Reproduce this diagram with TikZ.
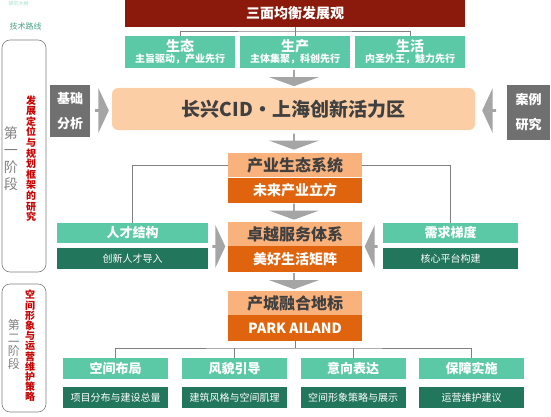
\documentclass[tikz,border=0pt]{standalone}
\usepackage{fontspec}
\setmainfont{Noto Sans CJK SC}
\usetikzlibrary{shapes.arrows, positioning}

\definecolor{bannerred}{RGB}{139,26,12}
\definecolor{tealbg}{RGB}{92,201,166}
\definecolor{greenbg}{RGB}{34,118,92}
\definecolor{peach}{RGB}{252,206,165}
\definecolor{lightorange}{RGB}{250,178,125}
\definecolor{darkorange}{RGB}{224,100,14}
\definecolor{boxgray}{RGB}{112,112,112}
\definecolor{arrowgray}{RGB}{165,165,165}
\definecolor{linegray}{RGB}{128,128,128}
\definecolor{stagered}{RGB}{200,0,0}
\definecolor{textdark}{RGB}{64,64,64}

\begin{document}
\begin{tikzpicture}[x=1pt, y=-1pt,
  link/.style={draw=linegray, line width=0.7pt},
  banner/.style={fill=bannerred, text=white, inner sep=0pt, font=\bfseries\fontsize{14}{16}\selectfont},
  topbox/.style={fill=tealbg, text=white, inner sep=0pt, align=center, minimum width=110, minimum height=32},
  tealbox/.style={fill=tealbg, text=white, inner sep=0pt, font=\bfseries\fontsize{13}{15}\selectfont},
  greenbox/.style={fill=greenbg, text=white, inner sep=0pt, font=\fontsize{10}{12}\selectfont},
  lightbox/.style={fill=lightorange, text=textdark, inner sep=0pt, minimum width=134, font=\bfseries\fontsize{16}{18}\selectfont},
  darkbox/.style={fill=darkorange, text=white, inner sep=0pt, minimum width=134, font=\bfseries\fontsize{14}{16}\selectfont},
  graybox/.style={fill=boxgray, text=white, inner sep=0pt, align=center, font=\bfseries\fontsize{13}{25}\selectfont},
  downarr/.style={single arrow, shape border rotate=270, fill=arrowgray, inner sep=0pt,
    minimum width=50, minimum height=16, single arrow head extend=5, single arrow tip angle=140},
  sidearr/.style={single arrow, fill=arrowgray, inner sep=0pt,
    minimum width=45, minimum height=14, single arrow head extend=3, single arrow tip angle=130},
  stage/.style={draw=linegray, line width=0.6pt, rounded corners=8pt},
  stagetext/.style={text=linegray, align=center, inner sep=0pt},
  redtext/.style={text=stagered, align=center, inner sep=0pt}
]
  \useasboundingbox (0,0) rectangle (551,417);

  % ======= 左上角标题 =======
  \node[text=tealbg!60, font=\fontsize{5}{6}\selectfont, anchor=west] (outline) at (5,4) {研究大纲};
  \node[text=tealbg!80!black, font=\fontsize{8}{9}\selectfont, anchor=west] (route) at (6,26) {技术路线};

  % ======= 阶段框 =======
  \draw[stage] (2,40) rectangle (46,272);
  \draw[stage] (2,284) rectangle (46,412);
  \node[stagetext, font=\fontsize{14}{17}\selectfont] (st1) at (11,159) {第\\一\\阶\\段};
  \node[redtext, font=\bfseries\fontsize{10}{10.6}\selectfont] (rt1) at (31,158.5)
    {发\\展\\定\\位\\与\\规\\划\\框\\架\\的\\研\\究};
  \node[stagetext, font=\fontsize{12}{13}\selectfont] (st2) at (14,344) {第\\二\\阶\\段};
  \node[redtext, font=\bfseries\fontsize{10}{10.2}\selectfont] (rt2) at (30,346)
    {空\\间\\形\\象\\与\\运\\营\\维\\护\\策\\略};

  % ======= 三面均衡发展观 =======
  \node[banner, minimum width=340, minimum height=27] (view) at (295,13.5) {三面均衡发展观};
  \node[topbox] (eco) at (180,52)
    {{\bfseries\fontsize{14}{16}\selectfont 生态}\\[-1pt]{\bfseries\fontsize{10}{12}\selectfont 主旨驱动，产业先行}};
  \node[topbox] (prod) at (295,52)
    {{\bfseries\fontsize{14}{16}\selectfont 生产}\\[-1pt]{\bfseries\fontsize{10}{12}\selectfont 主体集聚，科创先行}};
  \node[topbox] (life) at (410,52)
    {{\bfseries\fontsize{14}{16}\selectfont 生活}\\[-1pt]{\bfseries\fontsize{10}{12}\selectfont 内圣外王，魅力先行}};
  \coordinate (topbar) at (295,31);
  \draw[link] (view.south) -- (topbar);
  \draw[link] (eco.north) |- (topbar) -| (life.north);
  \draw[link] (topbar) -- (prod.north);

  % ======= 长兴CID =======
  \node[downarr] (arr1) at (294,78) {};
  \node[fill=peach, rounded corners=6pt, minimum width=363, minimum height=42, inner sep=0pt,
    text=textdark, font=\bfseries\fontsize{19}{21}\selectfont] (cid) at (293.5,109) {长兴CID・上海创新活力区};
  \node[graybox, minimum width=40, minimum height=52] (basis) at (70,111) {基础\\分析};
  \node[sidearr] (arrl) at (101.5,110.5) {};
  \node[sidearr, shape border rotate=180] (arrr) at (489.5,110.5) {};
  \node[graybox, minimum width=43, minimum height=55] (case) at (528.5,112.5) {案例\\研究};

  % ======= 中间主线 =======
  \node[downarr] (arr2) at (294,141.5) {};
  \node[lightbox, minimum height=24] (sys) at (295,165) {产业生态系统};
  \node[darkbox, minimum height=25] (cube) at (295,190.5) {未来产业立方};
  \node[downarr] (arr3) at (294,211.5) {};
  \node[lightbox, minimum height=24] (serv) at (295,234) {卓越服务体系};
  \node[darkbox, minimum height=26] (matrix) at (295,259) {美好生活矩阵};
  \node[downarr] (arr4) at (294,281) {};
  \node[lightbox, minimum height=24] (mark) at (295,303) {产城融合地标};
  \node[darkbox, minimum height=26] (park) at (295,328) {PARK AILAND};

  % 两侧支撑
  \node[tealbox, minimum width=151, minimum height=20] (talent) at (132.5,233) {人才结构};
  \node[greenbox, minimum width=151, minimum height=21] (talentin) at (132.5,258.5) {创新人才导入};
  \node[tealbox, minimum width=135, minimum height=20] (demand) at (450.5,233) {需求梯度};
  \node[greenbox, minimum width=135, minimum height=21] (core) at (450.5,258.5) {核心平台构建};
  \node[sidearr, minimum width=43, minimum height=13] (arrl2) at (218.5,246.5) {};
  \node[sidearr, minimum width=43, minimum height=13, shape border rotate=180] (arrr2) at (371.5,246.5) {};
  \draw[link] (sys.west) -| (talent.north);
  \draw[link] (sys.east) -| (demand.north);

  % ======= 第二阶段 =======
  \node[tealbox, minimum width=105, minimum height=21] (layout) at (115.5,368.5) {空间布局};
  \node[tealbox, minimum width=105, minimum height=21] (style) at (234.5,368.5) {风貌引导};
  \node[tealbox, minimum width=105, minimum height=21] (intent) at (353,368.5) {意向表达};
  \node[tealbox, minimum width=105, minimum height=21] (guard) at (471.5,368.5) {保障实施};
  \node[greenbox, minimum width=105, minimum height=21] (layoutd) at (115.5,397.5) {项目分布与建设总量};
  \node[greenbox, minimum width=105, minimum height=21] (styled) at (234.5,397.5) {建筑风格与空间肌理};
  \node[greenbox, minimum width=105, minimum height=21] (intentd) at (353,397.5) {空间形象策略与展示};
  \node[greenbox, minimum width=105, minimum height=21] (guardd) at (471.5,397.5) {运营维护建议};
  \coordinate (botbar) at (295,348);
  \draw[link] (park.south) -- (botbar);
  \draw[link] (layout.north) |- (botbar) -| (guard.north);
  \draw[link] (style.north) -- (style.north |- botbar);
  \draw[link] (intent.north) -- (intent.north |- botbar);

\end{tikzpicture}
\end{document}
